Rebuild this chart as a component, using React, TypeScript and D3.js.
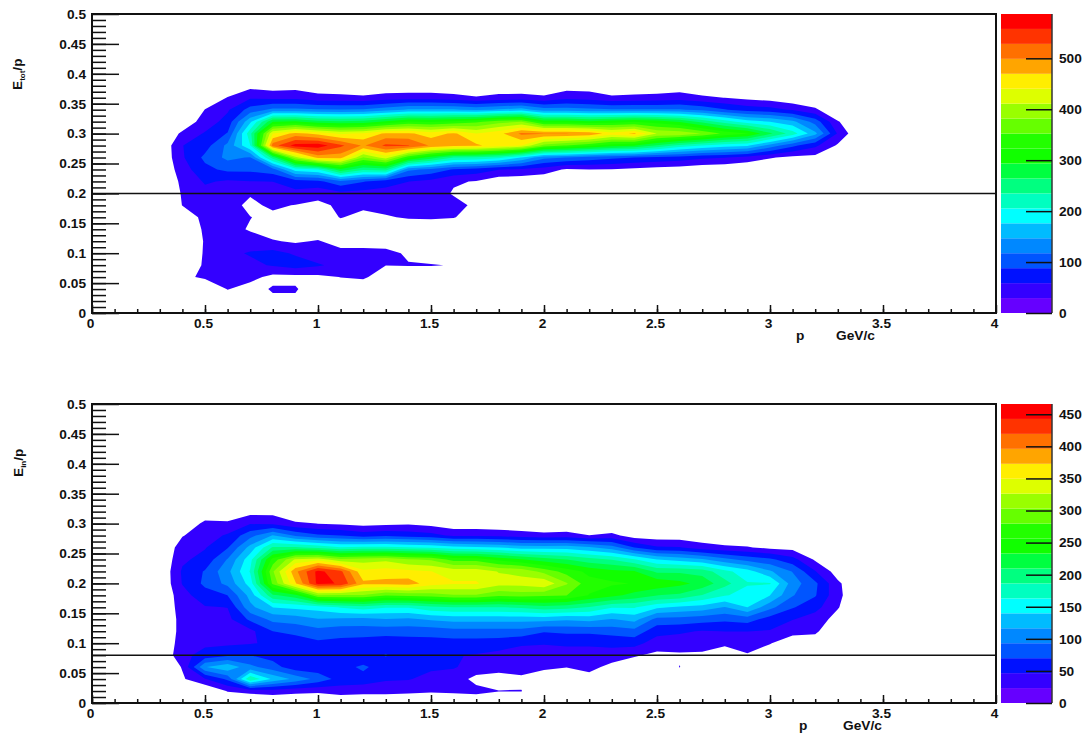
import React, { useEffect, useRef } from 'react';
import * as d3 from 'd3';

// counts: one list per p column (0.3, 0.4 ... 3.4),
// each list runs up E/p from 0 in steps of 0.02, missing entries are empty bins
const pColumns = [0.3, 0.4, 0.5, 0.6, 0.7, 0.8, 0.9, 1.0, 1.1, 1.2, 1.3, 1.4, 1.5, 1.6, 1.7, 1.8, 1.9, 2.0, 2.1, 2.2, 2.3, 2.4, 2.5, 2.6, 2.7, 2.8, 2.9, 3.0, 3.1, 3.2, 3.3, 3.4];
const ratioStep = 0.02;
const ratioRows = 21;

const etotCounts = [
  [],
  [0, 0, 0, 22, 0, 0, 0, 0, 10, 30, 32, 36, 45, 55, 58, 35, 10],
  [0, 0, 0, 35, 35, 33, 32, 35, 38, 42, 50, 62, 80, 95, 75, 62, 42, 30, 5],
  [0, 0, 31, 35, 45, 50, 40, 38, 38, 40, 45, 55, 95, 125, 125, 90, 70, 55, 31],
  [0, 0, 15, 40, 50, 62, 40, 27, 30, 23, 32, 58, 95, 115, 205, 225, 170, 100, 55, 20],
  [0, 22, 33, 20, 62, 68, 32, 15, 22, 35, 46, 59, 105, 250, 515, 440, 293, 125, 50, 15],
  [0, 22, 33, 20, 72, 55, 25, 0, 5, 28, 50, 75, 190, 400, 570, 480, 300, 125, 50, 18],
  [0, 0, 5, 22, 62, 42, 32, 5, 10, 22, 40, 80, 205, 480, 575, 460, 275, 120, 40, 10],
  [0, 0, 8, 30, 50, 40, 15, 8, 31, 35, 50, 110, 285, 480, 535, 435, 270, 118, 38, 8],
  [0, 0, 5, 35, 46, 38, 18, 5, 20, 36, 48, 90, 240, 380, 495, 445, 275, 120, 35, 5],
  [0, 0, 0, 10, 30, 38, 15, 3, 27, 38, 48, 70, 250, 425, 535, 475, 300, 135, 42, 8],
  [0, 0, 0, 5, 31, 25, 5, 8, 32, 38, 45, 59, 125, 330, 530, 475, 325, 150, 45, 8],
  [0, 0, 0, 5, 31, 15, 0, 10, 33, 38, 42, 50, 110, 280, 495, 455, 320, 150, 45, 8],
  [0, 0, 0, 0, 28, 5, 0, 5, 31, 38, 27, 32, 85, 235, 480, 475, 330, 150, 40, 5],
  [0, 0, 0, 0, 0, 0, 0, 0, 15, 24, 5, 28, 75, 230, 475, 440, 345, 140, 32, 5],
  [0, 0, 0, 0, 0, 0, 0, 0, 0, 0, 0, 10, 60, 215, 455, 460, 370, 150, 38, 10],
  [0, 0, 0, 0, 0, 0, 0, 0, 0, 0, 0, 8, 55, 175, 440, 505, 380, 160, 40, 8],
  [0, 0, 0, 0, 0, 0, 0, 0, 0, 0, 0, 5, 45, 125, 370, 500, 310, 130, 35, 5],
  [0, 0, 0, 0, 0, 0, 0, 0, 0, 0, 0, 5, 25, 117, 350, 500, 310, 130, 50, 15],
  [0, 0, 0, 0, 0, 0, 0, 0, 0, 0, 0, 0, 29, 105, 330, 490, 300, 125, 45, 15],
  [0, 0, 0, 0, 0, 0, 0, 0, 0, 0, 0, 0, 28, 95, 305, 455, 310, 120, 35, 5],
  [0, 0, 0, 0, 0, 0, 0, 0, 0, 0, 0, 0, 22, 88, 295, 475, 320, 120, 38, 5],
  [0, 0, 0, 0, 0, 0, 0, 0, 0, 0, 0, 0, 18, 80, 260, 410, 310, 120, 40, 8],
  [0, 0, 0, 0, 0, 0, 0, 0, 0, 0, 0, 0, 15, 75, 225, 405, 290, 120, 45, 10],
  [0, 0, 0, 0, 0, 0, 0, 0, 0, 0, 0, 0, 8, 65, 205, 380, 255, 110, 35, 3],
  [0, 0, 0, 0, 0, 0, 0, 0, 0, 0, 0, 0, 5, 60, 190, 345, 220, 90, 29],
  [0, 0, 0, 0, 0, 0, 0, 0, 0, 0, 0, 0, 0, 48, 180, 325, 190, 75, 22],
  [0, 0, 0, 0, 0, 0, 0, 0, 0, 0, 0, 0, 0, 32, 135, 270, 176, 70, 15],
  [0, 0, 0, 0, 0, 0, 0, 0, 0, 0, 0, 0, 0, 22, 95, 220, 155, 55, 5],
  [0, 0, 0, 0, 0, 0, 0, 0, 0, 0, 0, 0, 0, 20, 65, 155, 105, 35],
  [0, 0, 0, 0, 0, 0, 0, 0, 0, 0, 0, 0, 0, 0, 25, 55, 32],
  [],
];

const einCounts = [
  [],
  [0, 0, 20, 25, 40, 35, 32, 32, 35, 38, 48, 50, 42, 35, 22],
  [0, 0, 45, 115, 55, 42, 38, 40, 45, 60, 75, 72, 55, 45, 35, 30, 5],
  [0, 25, 75, 135, 65, 42, 38, 40, 47, 70, 100, 110, 95, 68, 50, 28, 5],
  [0, 30, 185, 100, 70, 45, 40, 75, 110, 125, 150, 165, 155, 125, 85, 45, 15],
  [0, 35, 135, 80, 60, 50, 70, 100, 140, 205, 285, 300, 265, 190, 118, 42, 15],
  [0, 30, 110, 55, 55, 60, 75, 105, 145, 225, 370, 390, 330, 190, 90, 27, 3],
  [0, 28, 85, 55, 55, 65, 85, 115, 150, 300, 450, 450, 340, 180, 75, 23],
  [0, 35, 60, 60, 50, 62, 80, 112, 165, 300, 440, 425, 310, 165, 70, 20],
  [5, 30, 60, 75, 50, 60, 80, 110, 175, 300, 378, 355, 315, 170, 60, 15],
  [5, 30, 50, 55, 72, 55, 80, 115, 165, 280, 380, 360, 320, 170, 65, 18],
  [5, 28, 48, 50, 48, 58, 80, 112, 165, 285, 385, 355, 305, 165, 60, 20],
  [5, 26, 40, 50, 50, 60, 80, 120, 180, 290, 360, 350, 300, 160, 55, 15],
  [3, 28, 38, 48, 48, 60, 85, 125, 185, 300, 352, 340, 270, 150, 42, 8],
  [0, 32, 15, 40, 45, 60, 85, 125, 185, 300, 352, 340, 270, 145, 42, 8],
  [0, 24, 10, 35, 40, 58, 85, 125, 185, 285, 335, 325, 250, 140, 40, 5],
  [0, 24, 18, 35, 35, 50, 85, 125, 190, 290, 335, 320, 235, 130, 35, 5],
  [0, 0, 8, 28, 38, 48, 72, 125, 200, 285, 345, 295, 220, 130, 30, 3],
  [0, 0, 5, 24, 38, 50, 75, 120, 195, 280, 305, 270, 210, 130, 32, 5],
  [0, 0, 12, 32, 38, 50, 75, 125, 185, 255, 265, 250, 195, 120, 24],
  [0, 0, 0, 15, 38, 52, 80, 115, 165, 240, 260, 240, 185, 105, 30],
  [0, 0, 0, 8, 26, 55, 85, 125, 165, 225, 255, 235, 165, 70, 12],
  [0, 0, 0, 0, 18, 35, 55, 85, 145, 210, 250, 205, 140, 50, 10],
  [0, 0, 0, 24, 20, 35, 50, 85, 135, 205, 240, 205, 130, 48, 10],
  [0, 0, 0, 0, 20, 32, 45, 80, 130, 185, 225, 200, 120, 35, 5],
  [0, 0, 0, 0, 15, 26, 47, 75, 115, 165, 195, 170, 100, 28, 3],
  [0, 0, 0, 0, 22, 30, 47, 80, 140, 155, 165, 150, 85, 25, 3],
  [0, 0, 0, 0, 15, 24, 45, 60, 100, 140, 165, 120, 75, 18],
  [0, 0, 0, 0, 0, 15, 28, 48, 72, 95, 105, 92, 55, 15],
  [0, 0, 0, 0, 0, 10, 28, 35, 55, 72, 75, 48, 20],
  [0, 0, 0, 0, 0, 0, 0, 15, 25, 30, 28, 12],
  [],
];

// bottom of the palette first
const paletteColors = ['#6600ff', '#3300ff', '#0011ff', '#0055ff', '#0088ff', '#00bbff', '#00ffff', '#00ffc0', '#00ff80', '#00ff40', '#11ff00', '#22ff00', '#66ff00', '#99ff00', '#ddff00', '#ffee00', '#ffa500', '#ff7000', '#ff3300', '#ff0000'];

const pMajorTicks = [0, 0.5, 1, 1.5, 2, 2.5, 3, 3.5, 4];
const pMinorTicks = d3.range(0, 40).map((d) => d / 10);
const ratioMajorTicks = [0, 0.05, 0.1, 0.15, 0.2, 0.25, 0.3, 0.35, 0.4, 0.45, 0.5];
const ratioMinorTicks = d3.range(0, 50).map((d) => d / 100);
const etotPaletteTicks = [0, 100, 200, 300, 400, 500];
const einPaletteTicks = [0, 50, 100, 150, 200, 250, 300, 350, 400, 450];

const font = '"Liberation Sans", Arial, sans-serif';
const INK = '#111';

function styleAxis(g: any, size = 13.7) {
  g.select('.domain').remove();
  g.selectAll('line').attr('stroke', INK).attr('stroke-width', 1.5);
  g.selectAll('text').attr('fill', INK).attr('font-family', font).attr('font-weight', 700).attr('font-size', size);
}

function drawPanel(svg: any, top: number, counts: number[][], zMax: number, zTicks: number[], cutValue: number, sub: string, titleBottom: number, titleX: number, pX: number, unitX: number) {
  const bottom = top + 299;
  const x = d3.scaleLinear().domain([0, 4]).range([92, 996]);
  const y = d3.scaleLinear().domain([0, 0.5]).range([bottom, top]);
  const z = d3.scaleLinear().domain([0, zMax]).range([bottom, top]);

  const nx = pColumns.length;
  const values = new Array(nx * ratioRows).fill(0);
  counts.forEach((col, i) => col.forEach((v, j) => { values[j * nx + i] = v; }));

  const level = zMax / paletteColors.length;
  const thresholds = d3.range(1, paletteColors.length).map((k) => k * level);
  const contours = d3.contours().size([nx, ratioRows]).thresholds(thresholds)(values);

  // contour grid coordinates sit half a cell off the sample points
  const path = d3.geoPath(d3.geoTransform({
    point(gx: number, gy: number) {
      this.stream.point(x(pColumns[0] + (gx - 0.5) * 0.1), y((gy - 0.5) * ratioStep));
    },
  }));

  svg.append('g').selectAll('path').data(contours).enter().append('path')
    .attr('d', path)
    .attr('fill', (d: any, i: number) => paletteColors[i + 1]);

  // palette
  svg.append('g').selectAll('rect').data(paletteColors).enter().append('rect')
    .attr('x', 1001)
    .attr('width', 51)
    .attr('y', (d: string, i: number) => z((i + 1) * level))
    .attr('height', (d: string, i: number) => z(i * level) - z((i + 1) * level))
    .attr('fill', (d: string) => d);

  svg.append('line').attr('x1', 1052).attr('x2', 1052).attr('y1', top).attr('y2', bottom)
    .attr('stroke', '#333').attr('stroke-width', 1.5);

  const zAxis = svg.append('g').attr('transform', 'translate(1052,0)')
    .call(d3.axisRight(z).tickValues(zTicks).tickSizeOuter(0).tickSizeInner(-26).tickPadding(7).tickFormat((d: any) => String(d)));
  styleAxis(zAxis);

  // frame and axes
  svg.append('rect').attr('x', 92).attr('y', top).attr('width', 904).attr('height', 299)
    .attr('fill', 'none').attr('stroke', INK).attr('stroke-width', 2);

  const xMinor = svg.append('g').attr('transform', `translate(0,${bottom})`)
    .call(d3.axisBottom(x).tickValues(pMinorTicks).tickSizeOuter(0).tickSizeInner(-4).tickFormat(() => ''));
  styleAxis(xMinor);
  const xMajor = svg.append('g').attr('transform', `translate(0,${bottom})`)
    .call(d3.axisBottom(x).tickValues(pMajorTicks).tickSizeOuter(0).tickSizeInner(-8).tickPadding(5).tickFormat((d: any) => String(d)));
  styleAxis(xMajor);
  xMajor.selectAll('text').attr('dx', -2);

  const yMinor = svg.append('g').attr('transform', 'translate(92,0)')
    .call(d3.axisLeft(y).tickValues(ratioMinorTicks).tickSizeOuter(0).tickSizeInner(-14).tickFormat(() => ''));
  styleAxis(yMinor);
  const yMajor = svg.append('g').attr('transform', 'translate(92,0)')
    .call(d3.axisLeft(y).tickValues(ratioMajorTicks).tickSizeOuter(0).tickSizeInner(-27).tickPadding(6).tickFormat((d: any) => String(d)));
  styleAxis(yMajor);

  // cut line
  svg.append('line').attr('x1', x(0)).attr('x2', x(4)).attr('y1', y(cutValue)).attr('y2', y(cutValue))
    .attr('stroke', INK).attr('stroke-width', 1.5);

  // titles
  const title = svg.append('text')
    .attr('transform', `translate(${titleX},${titleBottom}) rotate(-90)`)
    .attr('font-family', font).attr('font-weight', 700).attr('font-size', 13.7).attr('fill', INK);
  title.append('tspan').text('E');
  title.append('tspan').attr('font-size', 8).attr('dy', 3).text(sub);
  title.append('tspan').attr('dy', -3).text('/p');

  const labelY = bottom + 27;
  svg.append('text').attr('x', pX).attr('y', labelY).attr('font-family', font).attr('font-weight', 700)
    .attr('font-size', 13.7).attr('fill', INK).text('p');
  svg.append('text').attr('x', unitX).attr('y', labelY).attr('font-family', font).attr('font-weight', 700)
    .attr('font-size', 13.7).attr('fill', INK).text('GeV/c');
}

export default function App() {
  const ref = useRef<SVGSVGElement>(null);

  useEffect(() => {
    const svg = d3.select(ref.current);
    svg.selectAll('*').remove();
    drawPanel(svg, 14, etotCounts, 587, etotPaletteTicks, 0.2, 'tot', 90, 22, 796, 836);
    drawPanel(svg, 404, einCounts, 466, einPaletteTicks, 0.08, 'in', 477, 23, 799, 843);
  }, []);

  return <svg ref={ref} width={1086} height={735} style={{ position: 'absolute', left: 0, top: 0, display: 'block', background: '#fff' }} />;
}
